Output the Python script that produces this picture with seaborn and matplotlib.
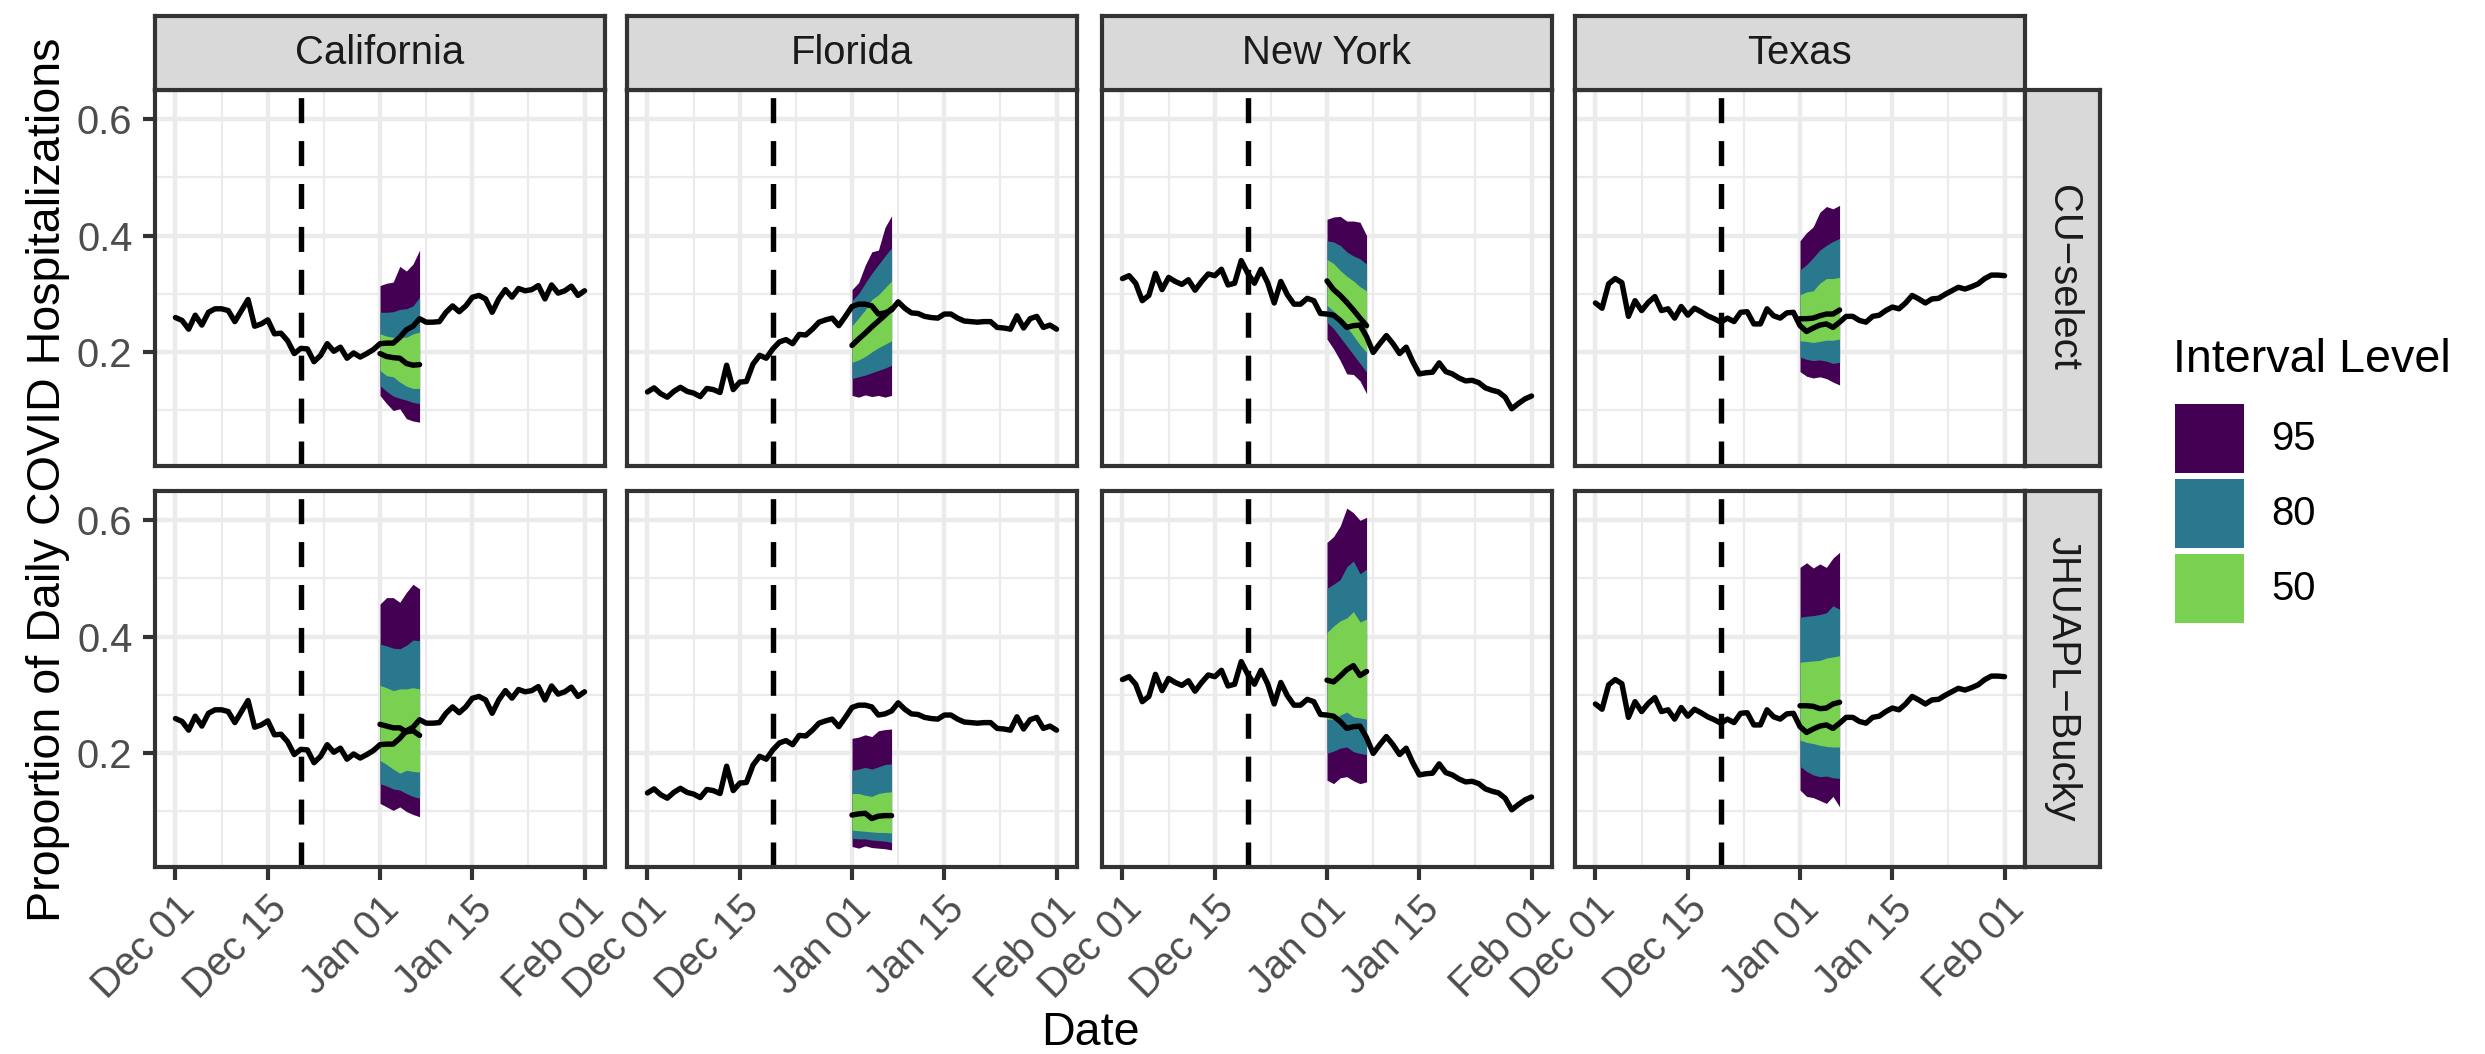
import pandas as pd
import matplotlib.pyplot as plt
import matplotlib.dates as mdates
from matplotlib.patches import Rectangle
import seaborn as sns

W, H, DPI = 2485, 1054, 300

STATES = ["California", "Florida", "New York", "Texas"]
MODELS = ["CU\u2212select", "JHUAPL\u2212Bucky"]
LEVELS = ["95", "80", "50"]
LEVEL_COLORS = ["#440154", "#2A788E", "#7AD151"]

truth_dates = pd.date_range("2020-12-01", "2021-02-01", freq="D")
fc_dates = pd.date_range("2021-01-01", "2021-01-07", freq="D")
forecast_date = pd.Timestamp("2020-12-20")

# observed proportions, Dec 01 - Feb 01
truth_ca = [0.259, 0.254, 0.239, 0.263, 0.246, 0.268, 0.274, 0.274, 0.271, 0.252,
            0.271, 0.290, 0.244, 0.248, 0.255, 0.231, 0.232, 0.219, 0.197, 0.206,
            0.205, 0.183, 0.194, 0.214, 0.201, 0.208, 0.189, 0.198, 0.191, 0.197,
            0.204, 0.214, 0.215, 0.215, 0.225, 0.238, 0.244, 0.257, 0.251, 0.251,
            0.252, 0.268, 0.279, 0.269, 0.279, 0.294, 0.297, 0.291, 0.268, 0.291,
            0.307, 0.294, 0.309, 0.305, 0.307, 0.314, 0.291, 0.315, 0.301, 0.305,
            0.313, 0.297, 0.305]
truth_fl = [0.131, 0.138, 0.128, 0.122, 0.132, 0.139, 0.132, 0.129, 0.123, 0.137,
            0.135, 0.130, 0.177, 0.135, 0.148, 0.149, 0.179, 0.194, 0.189, 0.205,
            0.217, 0.221, 0.214, 0.230, 0.229, 0.239, 0.251, 0.255, 0.258, 0.245,
            0.261, 0.278, 0.282, 0.282, 0.279, 0.265, 0.267, 0.272, 0.286, 0.275,
            0.267, 0.266, 0.261, 0.259, 0.258, 0.265, 0.265, 0.258, 0.253, 0.252,
            0.251, 0.252, 0.252, 0.242, 0.241, 0.239, 0.262, 0.241, 0.257, 0.261,
            0.242, 0.246, 0.239]
truth_ny = [0.326, 0.331, 0.318, 0.288, 0.297, 0.335, 0.307, 0.328, 0.321, 0.316,
            0.324, 0.306, 0.321, 0.334, 0.331, 0.342, 0.315, 0.318, 0.357, 0.335,
            0.318, 0.342, 0.319, 0.284, 0.321, 0.298, 0.282, 0.282, 0.292, 0.288,
            0.266, 0.265, 0.263, 0.254, 0.242, 0.245, 0.246, 0.226, 0.199, 0.214,
            0.228, 0.214, 0.197, 0.208, 0.183, 0.162, 0.164, 0.165, 0.181, 0.166,
            0.162, 0.155, 0.150, 0.151, 0.147, 0.138, 0.134, 0.131, 0.122, 0.102,
            0.111, 0.119, 0.124]
truth_tx = [0.284, 0.275, 0.317, 0.326, 0.319, 0.261, 0.288, 0.271, 0.285, 0.295,
            0.271, 0.274, 0.258, 0.278, 0.263, 0.275, 0.269, 0.262, 0.257, 0.251,
            0.258, 0.252, 0.268, 0.269, 0.248, 0.248, 0.274, 0.262, 0.258, 0.267,
            0.268, 0.245, 0.235, 0.241, 0.246, 0.248, 0.242, 0.251, 0.261, 0.261,
            0.254, 0.251, 0.261, 0.263, 0.271, 0.277, 0.274, 0.284, 0.297, 0.291,
            0.284, 0.291, 0.292, 0.299, 0.305, 0.311, 0.308, 0.312, 0.317, 0.326,
            0.332, 0.332, 0.331]

# forecasts, Jan 01 - Jan 07
cu_ca = dict(median=[0.197, 0.192, 0.190, 0.189, 0.180, 0.177, 0.178],
             lo50=[0.168, 0.159, 0.157, 0.148, 0.141, 0.137, 0.137],
             hi50=[0.231, 0.227, 0.225, 0.225, 0.225, 0.231, 0.234],
             lo80=[0.142, 0.132, 0.124, 0.120, 0.117, 0.113, 0.111],
             hi80=[0.268, 0.268, 0.269, 0.273, 0.274, 0.279, 0.294],
             lo95=[0.125, 0.111, 0.099, 0.102, 0.085, 0.081, 0.079],
             hi95=[0.314, 0.318, 0.320, 0.347, 0.339, 0.351, 0.375])
cu_fl = dict(median=[0.211, 0.222, 0.232, 0.243, 0.253, 0.263, 0.274],
             lo50=[0.182, 0.186, 0.192, 0.200, 0.207, 0.213, 0.219],
             hi50=[0.245, 0.258, 0.272, 0.290, 0.298, 0.310, 0.322],
             lo80=[0.154, 0.157, 0.160, 0.164, 0.168, 0.172, 0.177],
             hi80=[0.288, 0.300, 0.318, 0.335, 0.350, 0.365, 0.379],
             lo95=[0.125, 0.122, 0.126, 0.123, 0.125, 0.122, 0.125],
             hi95=[0.307, 0.319, 0.349, 0.372, 0.375, 0.414, 0.434])
cu_ny = dict(median=[0.322, 0.307, 0.297, 0.285, 0.272, 0.258, 0.245],
             lo50=[0.280, 0.270, 0.258, 0.243, 0.228, 0.212, 0.199],
             hi50=[0.359, 0.352, 0.340, 0.330, 0.322, 0.312, 0.305],
             lo80=[0.251, 0.240, 0.225, 0.210, 0.195, 0.180, 0.165],
             hi80=[0.391, 0.389, 0.383, 0.372, 0.365, 0.360, 0.351],
             lo95=[0.222, 0.205, 0.185, 0.162, 0.161, 0.150, 0.128],
             hi95=[0.428, 0.432, 0.433, 0.425, 0.425, 0.423, 0.400])
cu_tx = dict(median=[0.257, 0.257, 0.258, 0.262, 0.265, 0.265, 0.272],
             lo50=[0.219, 0.218, 0.216, 0.218, 0.220, 0.220, 0.222],
             hi50=[0.298, 0.303, 0.305, 0.318, 0.326, 0.326, 0.328],
             lo80=[0.191, 0.187, 0.185, 0.186, 0.184, 0.180, 0.182],
             hi80=[0.341, 0.350, 0.362, 0.375, 0.383, 0.390, 0.395],
             lo95=[0.166, 0.158, 0.155, 0.157, 0.154, 0.148, 0.143],
             hi95=[0.391, 0.405, 0.415, 0.440, 0.450, 0.446, 0.452])
jhu_ca = dict(median=[0.249, 0.246, 0.243, 0.243, 0.236, 0.238, 0.230],
              lo50=[0.187, 0.180, 0.172, 0.165, 0.170, 0.168, 0.167],
              hi50=[0.316, 0.312, 0.307, 0.310, 0.310, 0.312, 0.310],
              lo80=[0.147, 0.143, 0.138, 0.136, 0.130, 0.125, 0.122],
              hi80=[0.387, 0.384, 0.380, 0.379, 0.385, 0.394, 0.393],
              lo95=[0.113, 0.107, 0.101, 0.107, 0.099, 0.094, 0.090],
              hi95=[0.456, 0.467, 0.467, 0.459, 0.476, 0.490, 0.482])
jhu_fl = dict(median=[0.093, 0.095, 0.096, 0.087, 0.091, 0.092, 0.092],
              lo50=[0.067, 0.066, 0.065, 0.064, 0.063, 0.063, 0.062],
              hi50=[0.130, 0.130, 0.127, 0.125, 0.130, 0.132, 0.133],
              lo80=[0.053, 0.052, 0.052, 0.050, 0.049, 0.048, 0.046],
              hi80=[0.170, 0.172, 0.175, 0.172, 0.176, 0.180, 0.181],
              lo95=[0.039, 0.036, 0.040, 0.037, 0.036, 0.035, 0.033],
              hi95=[0.225, 0.227, 0.231, 0.228, 0.238, 0.240, 0.241])
jhu_ny = dict(median=[0.325, 0.322, 0.332, 0.343, 0.350, 0.333, 0.340],
              lo50=[0.258, 0.258, 0.265, 0.270, 0.262, 0.260, 0.258],
              hi50=[0.407, 0.418, 0.427, 0.432, 0.443, 0.425, 0.430],
              lo80=[0.199, 0.203, 0.208, 0.210, 0.202, 0.199, 0.197],
              hi80=[0.483, 0.490, 0.498, 0.520, 0.530, 0.508, 0.516],
              lo95=[0.153, 0.147, 0.157, 0.159, 0.152, 0.147, 0.150],
              hi95=[0.562, 0.572, 0.590, 0.621, 0.613, 0.600, 0.605])
jhu_tx = dict(median=[0.281, 0.281, 0.280, 0.276, 0.277, 0.284, 0.287],
              lo50=[0.222, 0.218, 0.216, 0.213, 0.211, 0.210, 0.210],
              hi50=[0.356, 0.357, 0.358, 0.359, 0.363, 0.365, 0.367],
              lo80=[0.177, 0.168, 0.162, 0.159, 0.160, 0.157, 0.156],
              hi80=[0.433, 0.435, 0.436, 0.438, 0.441, 0.453, 0.447],
              lo95=[0.136, 0.125, 0.123, 0.118, 0.113, 0.125, 0.107],
              hi95=[0.519, 0.527, 0.518, 0.525, 0.519, 0.535, 0.545])

truth = dict(zip(STATES, [truth_ca, truth_fl, truth_ny, truth_tx]))
forecasts = {
    (MODELS[0], "California"): cu_ca, (MODELS[0], "Florida"): cu_fl,
    (MODELS[0], "New York"): cu_ny, (MODELS[0], "Texas"): cu_tx,
    (MODELS[1], "California"): jhu_ca, (MODELS[1], "Florida"): jhu_fl,
    (MODELS[1], "New York"): jhu_ny, (MODELS[1], "Texas"): jhu_tx,
}

# layout in pixels (ggplot-like facet grid)
COL_LEFT = [155, 627, 1102, 1575]
ROW_TOP = [90, 491]
PANEL_W, PANEL_H = 450, 376
STRIP_TOP, STRIP_RIGHT_W = 16, 75

BORDER = "#333333"
GRID = "#EBEBEB"
LINE_W = 1.3
TITLE_SIZE = 11.2


def rect(x0, y0, w, h):
    return [x0 / W, 1 - (y0 + h) / H, w / W, h / H]


def strip_axes(fig, box, label, rotation=0):
    ax = fig.add_axes(rect(*box))
    ax.set_facecolor("#D9D9D9")
    ax.set_xticks([])
    ax.set_yticks([])
    for s in ax.spines.values():
        s.set_color(BORDER)
        s.set_linewidth(1.0)
    ax.text(0.5, 0.5, label, transform=ax.transAxes, ha="center", va="center",
            rotation=rotation, fontsize=9.6, color="#1A1A1A")
    return ax


def main():
    sns.set_theme(style="white")
    plt.rcParams["font.family"] = ["Liberation Sans", "DejaVu Sans"]
    plt.rcParams["lines.scale_dashes"] = False

    fig = plt.figure(figsize=(W / DPI, H / DPI), dpi=DPI)

    # shared scales with 5% expansion
    all_vals = sum(truth.values(), [])
    for fc in forecasts.values():
        all_vals += fc["lo95"] + fc["hi95"]
    ymin, ymax = min(all_vals), max(all_vals)
    ypad = 0.05 * (ymax - ymin)
    x0 = mdates.date2num(truth_dates[0])
    x1 = mdates.date2num(truth_dates[-1])
    xpad = 0.05 * (x1 - x0)

    major_x = mdates.date2num(pd.to_datetime(
        ["2020-12-01", "2020-12-15", "2021-01-01", "2021-01-15", "2021-02-01"]))
    minor_x = [(a + b) / 2 for a, b in zip(major_x[:-1], major_x[1:])]

    for r, model in enumerate(MODELS):
        for c, state in enumerate(STATES):
            ax = fig.add_axes(rect(COL_LEFT[c], ROW_TOP[r], PANEL_W, PANEL_H))
            ax.set_facecolor("white")
            ax.set_axisbelow(True)

            fc = forecasts[(model, state)]
            for lev, col in zip(LEVELS, LEVEL_COLORS):
                ax.fill_between(fc_dates, fc["lo" + lev], fc["hi" + lev],
                                color=col, lw=0, zorder=2)

            sns.lineplot(x=truth_dates, y=truth[state], ax=ax, color="black",
                         lw=LINE_W, zorder=3)
            sns.lineplot(x=fc_dates, y=fc["median"], ax=ax, color="black",
                         lw=LINE_W, zorder=3)
            ax.axvline(forecast_date, color="black", lw=LINE_W,
                       linestyle=(0, (6, 4.3)), zorder=4)

            ax.set_xlim(x0 - xpad, x1 + xpad)
            ax.set_ylim(ymin - ypad, ymax + ypad)
            ax.set_xticks(major_x)
            ax.set_xticks(minor_x, minor=True)
            ax.set_yticks([0.2, 0.4, 0.6])
            ax.set_yticks([0.1, 0.3, 0.5], minor=True)
            ax.xaxis.set_major_formatter(mdates.DateFormatter("%b %d"))
            ax.yaxis.set_major_formatter(plt.FuncFormatter(lambda v, p: f"{v:.1f}"))

            ax.grid(which="major", color=GRID, lw=1.07)
            ax.grid(which="minor", color=GRID, lw=0.55)
            for s in ax.spines.values():
                s.set_color(BORDER)
                s.set_linewidth(1.0)
                s.set_zorder(5)

            ax.tick_params(which="major", direction="out", length=3, width=1.0,
                           color=BORDER, labelsize=9.6, labelcolor="#4D4D4D", pad=2.4)
            ax.tick_params(which="minor", length=0)
            ax.tick_params(left=(c == 0), labelleft=(c == 0),
                           bottom=(r == 1), labelbottom=(r == 1))
            if r == 1:
                for lab in ax.get_xticklabels():
                    lab.set_rotation(45)
                    lab.set_ha("right")
                    lab.set_va("top")
                    lab.set_rotation_mode("anchor")
            ax.set_xlabel("")
            ax.set_ylabel("")

            if r == 0:
                strip_axes(fig, (COL_LEFT[c], STRIP_TOP, PANEL_W, ROW_TOP[0] - STRIP_TOP),
                           state)
            if c == len(STATES) - 1:
                strip_axes(fig, (COL_LEFT[c] + PANEL_W, ROW_TOP[r], STRIP_RIGHT_W, PANEL_H),
                           model, rotation=-90)

    # axis titles
    fig.text(48 / W, 1 - 480 / H, "Proportion of Daily COVID Hospitalizations",
             rotation=90, ha="center", va="center", fontsize=TITLE_SIZE, color="black")
    fig.text(1090 / W, 1 - 1033 / H, "Date", ha="center", va="center",
             fontsize=TITLE_SIZE, color="black")

    # legend
    fig.text(2173 / W, 1 - 372 / H, "Interval Level", ha="left", va="baseline",
             fontsize=TITLE_SIZE, color="black")
    key_tops = [404, 479, 554]
    for lev, col, top in zip(LEVELS, LEVEL_COLORS, key_tops):
        fig.patches.append(Rectangle((2175 / W, 1 - (top + 69) / H), 69 / W, 69 / H,
                                     transform=fig.transFigure, facecolor=col,
                                     edgecolor="none"))
        fig.text(2271 / W, 1 - (top + 35) / H, lev, ha="left", va="center",
                 fontsize=9.6, color="black")

    fig.savefig("out.png", dpi=DPI, facecolor="white")
    plt.close(fig)


if __name__ == "__main__":
    main()
